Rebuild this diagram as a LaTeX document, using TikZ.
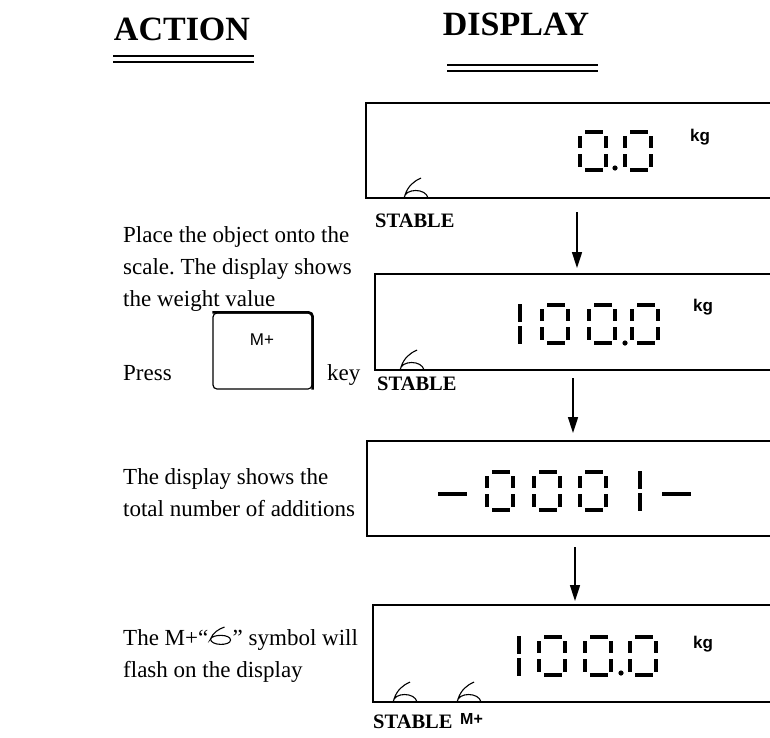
\documentclass[tikz,border=0pt]{standalone}
\usepackage{fontspec}
\setmainfont{Liberation Serif}
\newfontfamily\arial{Liberation Sans}
\usetikzlibrary{arrows.meta,calc}
\frenchspacing
\tikzset{
  seg/.style={line width=4pt},
  boxline/.style={line width=1.9pt},
  flow/.style={line width=1.6pt,-{Triangle[length=16pt,width=10pt]}},
  body/.style={anchor=base west,inner sep=0pt,font=\fontsize{23}{27}\selectfont},
  head/.style={anchor=base,inner sep=0pt,font=\fontsize{34}{40}\selectfont\bfseries},
  stab/.style={anchor=base west,inner sep=0pt,font=\fontsize{20.5}{24}\selectfont\bfseries},
  unit/.style={anchor=base west,inner sep=0pt,font=\arial\bfseries\fontsize{17}{20}\selectfont},
  symline/.style={line width=1.1pt},
  dzero/.pic={\draw[seg] (7,2)--(25,2) (7,40)--(25,40) (2,6)--(2,18) (2,24)--(2,37) (28,6)--(28,18) (28,24)--(28,37);},
  done/.pic={\draw[seg] (2,1)--(2,19) (2,23)--(2,41);},
  ddash/.pic={\draw[seg] (0,0)--(29,0);},
  ddot/.pic={\fill (0,0) circle (2.6pt);},
  stabsym/.pic={\draw[symline] (0,0) .. controls (1,-10) and (22,-10) .. (24,0) (1,-3) .. controls (4,-12) and (10,-17) .. (17,-20);},
  sixsym/.pic={\draw[symline] (1,-6) .. controls (1,1) and (21,1) .. (21,-5) .. controls (21,-11) and (3,-11) .. (1,-6) .. controls (3,-12) and (9,-16) .. (15,-18);},
}
\begin{document}
\begin{tikzpicture}[x=1pt,y=-1pt]
\useasboundingbox (0,0) rectangle (770,737);
% headers
\node[head] (action) at (182,40) {ACTION};
\node[head] (display) at (516,35) {DISPLAY};
\draw[line width=2pt] (113,56)--(254,56) (113,61.5)--(254,61.5);
\draw[line width=2pt] (447,65)--(598,65) (447,70.5)--(598,70.5);
% left texts
\node[body] (t1a) at (123,242) {Place the object onto the};
\node[body] (t1b) at (123,274) {scale. The display shows};
\node[body] (t1c) at (123,306) {the weight value};
\node[body] (press) at (123,380) {Press};
\node[body] (keyw) at (327,380) {key};
\node[draw,line width=1.2pt,rounded corners=4pt,minimum width=99pt,minimum height=76pt,inner sep=0pt] (key) at (262.5,351) {};
\draw[line width=2.6pt,rounded corners=4pt] (key.north west) -- (key.north east) -- (key.south east);
\node[inner sep=0pt,font=\arial\fontsize{17}{20}\selectfont] (mplus) at (262,340) {M+};
\node[body] (t3a) at (123,484) {The display shows the};
\node[body] (t3b) at (123,516) {total number of additions};
\node[body] (t4a) at (123,645) {The M+“};
\path (t4a.base east) ++(1,0) pic {sixsym};
\node[body] (t4b) at ($(t4a.base east)+(24,0)$) {” symbol will};
\node[body] (t4c) at (123,677) {flash on the display};
% display 1
\draw[boxline] (771,103) -- (366,103) -- (366,198) -- (771,198);
\pic at (578,130) {dzero};
\pic at (615,168) {ddot};
\pic at (623,130) {dzero};
\node[unit] (kg1) at (690,141) {kg};
\pic at (404,198) {stabsym};
\node[stab] (st1) at (375,227) {STABLE};
\coordinate (a1s) at (577,212);
\coordinate (a1e) at (577,268);
\draw[flow] (a1s) -- (a1e);
% display 2
\draw[boxline] (771,274) -- (375,274) -- (375,370) -- (771,370);
\pic at (518,303) {done};
\pic at (540,303) {dzero};
\pic at (587,303) {dzero};
\pic at (625,343) {ddot};
\pic at (630,303) {dzero};
\node[unit] (kg2) at (693,311) {kg};
\pic at (400,370) {stabsym};
\node[stab] (st2) at (377,390) {STABLE};
\coordinate (a2s) at (573,378);
\coordinate (a2e) at (573,433);
\draw[flow] (a2s) -- (a2e);
% display 3
\draw[boxline] (771,441) -- (367,441) -- (367,536) -- (771,536);
\pic at (438,494) {ddash};
\pic at (485,470) {dzero};
\pic at (532,470) {dzero};
\pic at (578,470) {dzero};
\pic at (638,470) {done};
\pic at (662,494) {ddash};
\coordinate (a3s) at (575,547);
\coordinate (a3e) at (575,601);
\draw[flow] (a3s) -- (a3e);
% display 4
\draw[boxline] (771,605) -- (373,605) -- (373,702) -- (771,702);
\pic at (517,635) {done};
\pic at (537,635) {dzero};
\pic at (583,635) {dzero};
\pic at (621,673) {ddot};
\pic at (628,635) {dzero};
\node[unit] (kg4) at (693,648) {kg};
\pic at (393,702) {stabsym};
\pic at (457,702) {stabsym};
\node[stab] (st4) at (373,728) {STABLE};
\node[unit,font=\arial\bfseries\fontsize{16}{19}\selectfont] (mp4) at (460,724) {M+};
\end{tikzpicture}
\end{document}
